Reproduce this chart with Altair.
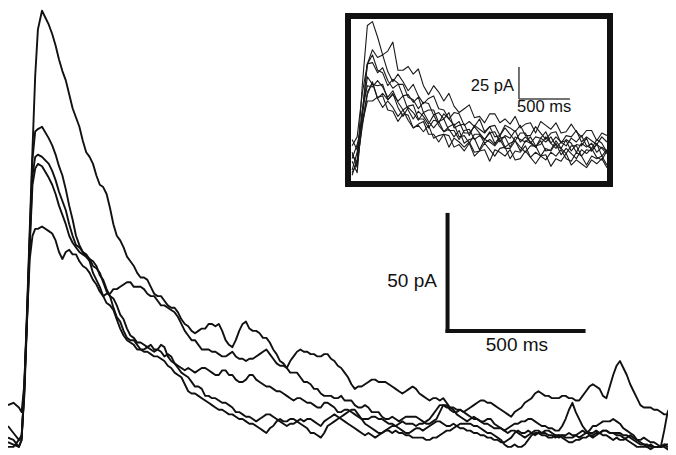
import altair as alt
import pandas as pd

# ---------------- main recording (time in ms, current in pA) ----------------
RISE_MS = [0, 20, 40, 50, 60, 70, 80, 90, 100, 110, 125]
DECAY_MS = [150 + 12.5 * k for k in range(185)]
TIME_MS = RISE_MS + DECAY_MS

TRACE_1 = [1, 0, -3, 0, 24, 56, 91, 125, 157, 177, 185,
           179, 175, 170, 164, 159, 155, 149, 143, 139, 135,
           129, 124, 122, 119, 114, 110, 109, 106, 100, 93,
           88, 86, 83, 79, 77, 75, 72, 70, 70, 69,
           66, 63, 62, 62, 60, 58, 57, 57, 55, 52,
           50, 49, 47, 46, 47, 48, 48, 50, 50, 49,
           50, 47, 43, 41, 40, 43, 47, 50, 51, 48,
           47, 47, 46, 44, 44, 42, 39, 37, 34, 33,
           31, 29, 29, 29, 27, 25, 25, 24, 22, 22,
           20, 19, 19, 19, 18, 18, 19, 17, 17, 17,
           15, 14, 14, 15, 14, 12, 12, 12, 10, 9,
           9, 10, 9, 8, 9, 10, 10, 10, 10, 9,
           8, 7, 7, 8, 9, 12, 15, 15, 13, 12,
           12, 13, 12, 11, 10, 9, 9, 8, 7, 7,
           6, 5, 5, 5, 4, 3, 4, 4, 3, 2,
           1, 2, 3, 4, 4, 3, 4, 4, 3, 2,
           2, 2, 1, 1, 1, 2, 1, 2, 3, 3,
           3, 4, 3, 2, 2, 1, 0, 1, 0, 0,
           1, 2, 1, 0, 0, 1, 0, -1, -1, -2,
           -3, -3, -4, -5, -4]

TRACE_2 = [-1, -2, -3, 0, 22, 54, 88, 121, 133, 134, 135,
           130, 127, 123, 118, 114, 108, 101, 95, 88, 84,
           81, 80, 78, 75, 74, 72, 68, 64, 62, 57,
           53, 51, 47, 44, 43, 43, 41, 39, 39, 40,
           39, 38, 39, 41, 40, 36, 34, 33, 31, 29,
           28, 27, 25, 23, 23, 22, 19, 19, 18, 18,
           17, 16, 16, 15, 14, 12, 12, 11, 10, 10,
           9, 8, 9, 10, 11, 11, 10, 9, 8, 7,
           6, 7, 7, 8, 9, 8, 9, 9, 8, 7,
           6, 8, 9, 10, 11, 10, 9, 8, 7, 6,
           5, 4, 3, 2, 3, 2, 1, 2, 3, 4,
           5, 6, 6, 5, 4, 3, 3, 4, 5, 5,
           4, 5, 6, 7, 8, 8, 7, 6, 6, 7,
           6, 5, 5, 4, 4, 3, 3, 2, 2, 1,
           1, 0, 0, -1, -1, 0, 1, 3, 4, 3,
           3, 4, 3, 2, 3, 2, 2, 1, 1, 2,
           1, 2, 2, 3, 2, 2, 3, 4, 3, 4,
           6, 6, 7, 8, 8, 8, 9, 8, 7, 5,
           4, 3, 2, 0, -1, -2, -3, -2, -3, -3,
           -3, 4, 12, 15, 16]

TRACE_3 = [-3, -3, 0, 1, 21, 53, 86, 114, 122, 123, 122,
           119, 116, 112, 107, 103, 99, 93, 88, 84, 83,
           81, 79, 78, 77, 75, 71, 69, 65, 62, 61,
           58, 54, 52, 48, 45, 44, 42, 42, 41, 40,
           41, 39, 39, 38, 36, 37, 36, 33, 32, 31,
           30, 31, 30, 29, 30, 31, 31, 30, 29, 28,
           28, 30, 30, 28, 28, 26, 25, 25, 26, 28,
           28, 26, 25, 24, 23, 23, 22, 21, 21, 20,
           19, 18, 17, 18, 18, 17, 16, 16, 15, 14,
           14, 16, 16, 15, 14, 12, 12, 13, 13, 12,
           11, 10, 9, 9, 9, 10, 10, 9, 9, 8,
           7, 7, 6, 7, 8, 7, 7, 7, 6, 7,
           7, 8, 9, 11, 13, 15, 15, 14, 14, 13,
           11, 10, 9, 8, 9, 10, 9, 8, 8, 9,
           9, 7, 6, 5, 4, 5, 6, 7, 7, 8,
           8, 9, 9, 8, 7, 6, 6, 5, 5, 4,
           4, 6, 9, 13, 16, 12, 9, 6, 4, 2,
           1, 2, 3, 4, 4, 3, 3, 3, 3, 2,
           2, 1, 0, -1, -2, -2, -2, -3, -3, -3,
           -3, -2, -3, -3, -3]

TRACE_4 = [6, 3, 0, 2, 19, 51, 84, 110, 117, 119, 118,
           113, 110, 106, 101, 97, 93, 88, 85, 83, 81,
           80, 79, 77, 72, 69, 66, 62, 59, 58, 56,
           52, 48, 45, 43, 42, 41, 39, 39, 38, 38,
           37, 36, 36, 35, 34, 32, 31, 29, 28, 27,
           24, 21, 20, 20, 19, 18, 17, 16, 15, 14,
           13, 13, 12, 11, 11, 10, 9, 9, 8, 7,
           7, 6, 5, 4, 3, 5, 6, 8, 9, 8,
           8, 9, 9, 8, 7, 6, 5, 3, 3, 2,
           1, 3, 6, 7, 8, 9, 10, 11, 12, 13,
           13, 11, 9, 7, 6, 5, 4, 3, 3, 4,
           4, 3, 4, 3, 3, 2, 2, 1, 1, 1,
           1, 0, 0, 1, 1, 2, 3, 4, 4, 5,
           6, 7, 7, 7, 7, 6, 6, 5, 4, 3,
           3, 2, 1, 0, -2, -3, -3, -2, -3, -3,
           -2, 0, 2, 3, 3, 3, 3, 2, 2, 1,
           2, 1, 0, -1, -1, 0, 0, 1, 1, 2,
           2, 3, 3, 4, 4, 3, 3, 2, 2, 1,
           0, -1, -2, -3, -3, -3, -3, -4, -3, -3,
           -3, -2, -2, -2, -2]

TRACE_5 = [15, 16, 14, 12, 24, 52, 78, 88, 91, 91, 92,
           90, 89, 86, 81, 78, 81, 82, 80, 80, 77,
           75, 74, 72, 69, 67, 64, 62, 63, 63, 65,
           65, 66, 67, 68, 68, 66, 66, 66, 65, 63,
           62, 62, 60, 58, 58, 57, 56, 55, 53, 50,
           47, 45, 43, 43, 41, 39, 39, 39, 38, 38,
           37, 36, 36, 37, 38, 36, 35, 35, 34, 35,
           35, 36, 37, 38, 39, 37, 35, 33, 32, 32,
           31, 34, 36, 38, 39, 38, 38, 37, 37, 36,
           36, 37, 37, 35, 34, 32, 31, 29, 27, 24,
           22, 23, 23, 24, 25, 26, 26, 25, 25, 25,
           24, 23, 22, 21, 20, 21, 22, 23, 22, 20,
           19, 18, 17, 18, 18, 17, 18, 16, 14, 14,
           13, 13, 12, 13, 14, 15, 16, 17, 17, 16,
           16, 15, 14, 13, 12, 11, 10, 12, 13, 14,
           16, 17, 18, 20, 21, 20, 19, 19, 18, 18,
           18, 19, 19, 18, 18, 17, 17, 19, 21, 23,
           24, 23, 22, 19, 18, 23, 28, 32, 34, 31,
           28, 24, 21, 18, 15, 14, 14, 14, 13, 13,
           12, 11, 11, 12, 12]

MAIN_TRACES = {"a": TRACE_1, "b": TRACE_2, "c": TRACE_3, "d": TRACE_4, "e": TRACE_5}

# ---------------- inset recording ----------------
INSET_TIME_MS = list(range(0, 2501, 50))

INSET_1 = [8, 2, 62, 109, 112, 100, 86, 89, 96, 74, 74, 77, 71, 75, 62, 55, 62, 57, 50, 56,
           46, 41, 44, 47, 37, 38, 33, 40, 40, 33, 36, 32, 38, 29, 32, 33, 25, 34, 31, 28,
           33, 25, 26, 32, 26, 22, 27, 27, 19, 25, 23]
INSET_2 = [15, 22, 56, 79, 90, 84, 86, 73, 65, 71, 65, 58, 63, 54, 48, 52, 54, 44, 43, 36,
           41, 40, 31, 34, 30, 36, 26, 30, 31, 23, 31, 29, 26, 31, 23, 23, 30, 25, 20, 25,
           26, 17, 23, 22, 27, 18, 22, 19, 16, 22, 18]
INSET_3 = [-4, 10, 40, 79, 80, 72, 76, 66, 60, 63, 63, 53, 51, 44, 49, 48, 39, 41, 36, 41,
           29, 31, 32, 23, 31, 28, 25, 30, 22, 23, 29, 24, 19, 25, 25, 17, 22, 21, 26, 17,
           22, 18, 15, 21, 18, 23, 15, 13, 20, 17, 10]
INSET_4 = [3, -6, 41, 79, 86, 74, 72, 62, 67, 64, 54, 55, 49, 53, 41, 43, 43, 33, 40, 36,
           31, 34, 25, 25, 30, 25, 20, 25, 26, 18, 23, 21, 27, 18, 22, 18, 14, 21, 18, 22,
           15, 13, 20, 17, 10, 17, 14, 17, 10, 14, 11]
INSET_5 = [20, 12, 38, 69, 63, 62, 63, 51, 55, 50, 54, 43, 36, 42, 38, 32, 39, 31, 26, 30,
           32, 22, 23, 17, 24, 24, 17, 20, 16, 23, 14, 17, 19, 11, 19, 17, 14, 19, 11, 12,
           19, 13, 9, 15, 15, 7, 12, 11, 17, 7, 12]
INSET_6 = [-8, 4, 43, 62, 61, 66, 61, 53, 58, 49, 43, 46, 47, 36, 36, 29, 35, 34, 26, 28,
           22, 27, 17, 20, 21, 12, 20, 18, 15, 20, 13, 13, 19, 14, 10, 15, 15, 7, 13, 11,
           17, 8, 13, 9, 5, 12, 9, 13, 6, 4, 11]
INSET_7 = [10, -2, 33, 50, 50, 53, 54, 43, 42, 34, 40, 39, 29, 31, 26, 31, 21, 23, 24, 14,
           21, 18, 14, 18, 10, 11, 17, 12, 7, 13, 14, 5, 11, 10, 15, 6, 10, 7, 4, 10,
           7, 12, 5, 3, 10, 7, 0, 7, 5, 7, 0]
INSET_8 = [5, 16, 33, 57, 64, 52, 56, 51, 56, 45, 38, 45, 41, 35, 41, 34, 29, 34, 36, 27,
           27, 20, 27, 28, 20, 23, 20, 26, 17, 21, 22, 14, 22, 20, 18, 22, 15, 16, 22, 17,
           13, 18, 19, 11, 16, 15, 21, 11, 16, 13, 9]
INSET_9 = [-6, 2, 30, 55, 65, 52, 45, 50, 45, 38, 43, 35, 29, 32, 34, 24, 24, 18, 24, 23,
           14, 16, 11, 17, 7, 11, 12, 3, 12, 10, 7, 12, 4, 5, 11, 6, 1, 7, 8, -1,
           5, 3, 9, 0, 4, 1, -2, 4, 1, 5, -2]

INSET_TRACES = {"1": INSET_1, "2": INSET_2, "3": INSET_3, "4": INSET_4, "5": INSET_5,
                "6": INSET_6, "7": INSET_7, "8": INSET_8, "9": INSET_9}

# scale bars (value units)
MAIN_BAR = {"t0": 1616, "pA0": 47, "ms": 500, "pA": 50}
INSET_BAR = {"t0": 1637, "pA0": 51.6, "ms": 500, "pA": 25}


def long_table(times, traces):
    rows = []
    for name, vals in traces.items():
        assert len(vals) == len(times), (name, len(vals), len(times))
        for t, v in zip(times, vals):
            rows.append({"trace": name, "t": t, "pA": v})
    return pd.DataFrame(rows)


main_df = long_table(TIME_MS, MAIN_TRACES)
inset_df = long_table(INSET_TIME_MS, INSET_TRACES)

FONT = "Liberation Sans"

MAIN_X = alt.Scale(domain=[0, 2426.5], nice=False, zero=False)
MAIN_Y = alt.Scale(domain=[-6.5, 186.2], nice=False, zero=False)
INSET_X = alt.Scale(domain=[-40, 2530], range=[340, 602], nice=False, zero=False)
INSET_Y = alt.Scale(domain=[-14.8, 116.4], range=[176, 8], nice=False, zero=False)

# ---------- main layer ----------
main_lines = alt.Chart(main_df).mark_line(
    color="#111111", strokeWidth=1.9, strokeJoin="round"
).encode(
    x=alt.X("t:Q", scale=MAIN_X, axis=None),
    y=alt.Y("pA:Q", scale=MAIN_Y, axis=None),
    detail="trace:N",
)

mb = MAIN_BAR
main_bar_df = pd.DataFrame([
    {"x": mb["t0"], "x2": mb["t0"], "y": mb["pA0"], "y2": mb["pA0"] + mb["pA"]},
    {"x": mb["t0"], "x2": mb["t0"] + mb["ms"], "y": mb["pA0"], "y2": mb["pA0"]},
])
main_bars = alt.Chart(main_bar_df).mark_rule(
    color="#111111", strokeWidth=4, strokeCap="square"
).encode(
    x=alt.X("x:Q", scale=MAIN_X, axis=None), x2="x2:Q",
    y=alt.Y("y:Q", scale=MAIN_Y, axis=None), y2="y2:Q",
)

main_lbl_pa = alt.Chart(pd.DataFrame([{"x": 1577, "y": 68.5, "label": "50 pA"}])).mark_text(
    align="right", baseline="middle", font=FONT, fontSize=19, color="#111111"
).encode(
    x=alt.X("x:Q", scale=MAIN_X, axis=None),
    y=alt.Y("y:Q", scale=MAIN_Y, axis=None),
    text="label:N",
)
main_lbl_ms = alt.Chart(pd.DataFrame([{"x": 1871, "y": 41, "label": "500 ms"}])).mark_text(
    align="center", baseline="middle", font=FONT, fontSize=19, color="#111111"
).encode(
    x=alt.X("x:Q", scale=MAIN_X, axis=None),
    y=alt.Y("y:Q", scale=MAIN_Y, axis=None),
    text="label:N",
)

main_layer = alt.layer(main_lines, main_bars, main_lbl_pa, main_lbl_ms)

# ---------- inset layer ----------
inset_lines = alt.Chart(inset_df).mark_line(
    color="#1a1a1a", strokeWidth=1.1, strokeJoin="round"
).encode(
    x=alt.X("t:Q", scale=INSET_X, axis=None),
    y=alt.Y("pA:Q", scale=INSET_Y, axis=None),
    detail="trace:N",
)

ib = INSET_BAR
inset_bar_df = pd.DataFrame([
    {"x": ib["t0"], "x2": ib["t0"], "y": ib["pA0"], "y2": ib["pA0"] + ib["pA"]},
    {"x": ib["t0"], "x2": ib["t0"] + ib["ms"], "y": ib["pA0"], "y2": ib["pA0"]},
])
inset_bars = alt.Chart(inset_bar_df).mark_rule(
    color="#444444", strokeWidth=1.5
).encode(
    x=alt.X("x:Q", scale=INSET_X, axis=None), x2="x2:Q",
    y=alt.Y("y:Q", scale=INSET_Y, axis=None), y2="y2:Q",
)

inset_lbl_pa = alt.Chart(pd.DataFrame([{"x": 1588, "y": 61.7, "label": "25 pA"}])).mark_text(
    align="right", baseline="middle", font=FONT, fontSize=16.5, color="#111111"
).encode(
    x=alt.X("x:Q", scale=INSET_X, axis=None),
    y=alt.Y("y:Q", scale=INSET_Y, axis=None),
    text="label:N",
)
inset_lbl_ms = alt.Chart(pd.DataFrame([{"x": 1618, "y": 45, "label": "500 ms"}])).mark_text(
    align="left", baseline="middle", font=FONT, fontSize=16.5, color="#111111"
).encode(
    x=alt.X("x:Q", scale=INSET_X, axis=None),
    y=alt.Y("y:Q", scale=INSET_Y, axis=None),
    text="label:N",
)

inset_box = alt.Chart(pd.DataFrame([{"x": -40, "x2": 2530, "y": -14.8, "y2": 116.4}])).mark_rect(
    fillOpacity=0, stroke="#111111", strokeWidth=6
).encode(
    x=alt.X("x:Q", scale=INSET_X, axis=None), x2="x2:Q",
    y=alt.Y("y:Q", scale=INSET_Y, axis=None), y2="y2:Q",
)

inset_layer = alt.layer(inset_lines, inset_bars, inset_lbl_pa, inset_lbl_ms, inset_box)

chart = alt.layer(main_layer, inset_layer).resolve_scale(
    x="independent", y="independent"
).properties(
    width=660, height=447, padding=0, autosize="none", background="white"
).configure_view(stroke=None)

chart.save("out.html", embed_options={"renderer": "svg", "actions": False})
